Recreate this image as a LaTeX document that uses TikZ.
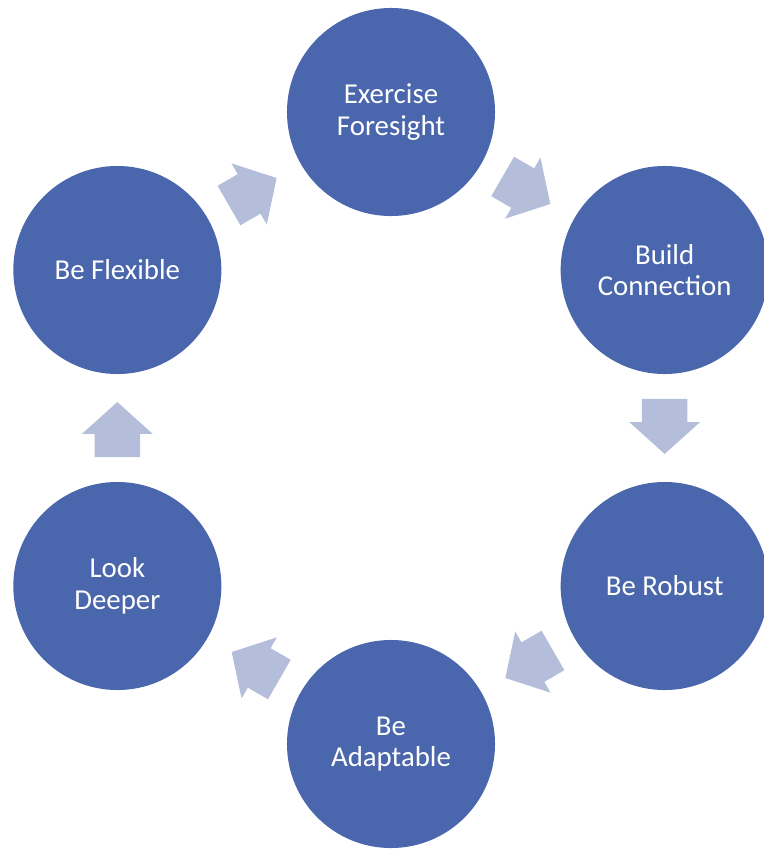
\documentclass[tikz,border=0pt]{standalone}
\usepackage{fontspec}
\setmainfont{Carlito}
\usetikzlibrary{shapes.arrows}
\definecolor{BubbleBlue}{HTML}{4A66AC}
\definecolor{ArrowBlue}{HTML}{B4BDD9}

\begin{document}
\begin{tikzpicture}[x=0.025cm, y=-0.025cm,
Bubble/.style={circle, fill=BubbleBlue, minimum size=5.2cm, inner sep=0pt, text=white, align=center, font=\fontsize{20.5}{22.5}\selectfont},
Flow/.style={single arrow, fill=ArrowBlue, draw=none, inner xsep=0pt, inner ysep=0.5625cm, minimum height=1.375cm, single arrow head extend=0.3125cm, single arrow tip angle=96, sloped, allow upside down}]
\useasboundingbox (0,0) rectangle (764,850);
\def\cx{391}
\def\cy{428}
\def\ring{316}
\foreach \name/\ang/\txt in {foresight/90/{Exercise\\Foresight}, connection/30/{Build\\Connection}, robust/-30/{Be Robust}, adaptable/-90/{Be\\Adaptable}, deeper/-150/{Look\\Deeper}, flexible/150/{Be Flexible}} {
  \node [Bubble] (\name) at ({\cx+\ring*cos(\ang)}, {\cy-\ring*sin(\ang)}) {\txt};
}
% block arrows between the bubbles, clockwise
\foreach \from/\to in {flexible/foresight, foresight/connection, connection/robust, robust/adaptable, adaptable/deeper, deeper/flexible} {
  \path (\from) -- (\to) node [Flow, pos=0.39] (flow-\from) {};
}
\end{tikzpicture}
\end{document}
